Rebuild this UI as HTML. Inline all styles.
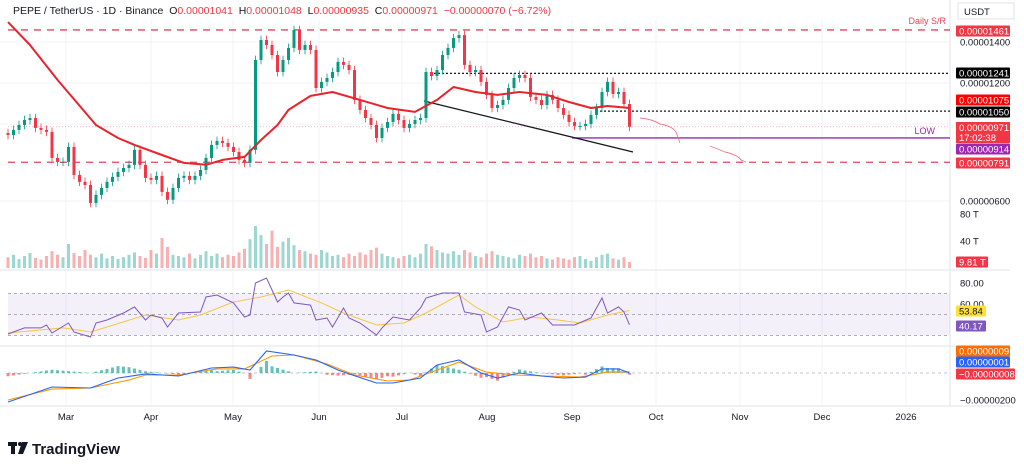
<!DOCTYPE html>
<html><head><meta charset="utf-8">
<style>
html,body{margin:0;padding:0;background:#fff;}
svg{display:block;font-family:"Liberation Sans",sans-serif;}
</style></head>
<body>
<svg id="chart" width="1024" height="470" viewBox="0 0 1024 470" xmlns="http://www.w3.org/2000/svg">
<rect x="0" y="0" width="1024" height="470" fill="#fff"/>
<g id="grid"></g>
<g id="overlay"></g>
<g id="marks"></g>
<g id="axis"></g>
</svg>
<script>
// ---- data ----
const closes=[929,955,980,1005,1015,965,955,945,813,793,793,869,727,692,676,585,626,661,692,717,742,762,778,854,778,712,702,722,641,601,661,712,722,702,722,752,813,879,899,889,869,843,803,788,854,1309,1410,1385,1334,1248,1309,1370,1461,1360,1385,1360,1167,1198,1218,1248,1299,1284,1258,1107,1056,1015,980,914,965,995,1036,1005,965,985,1005,1015,1248,1228,1258,1334,1370,1420,1435,1284,1248,1258,1198,1132,1066,1081,1107,1167,1218,1233,1218,1122,1107,1081,1132,1107,1066,1031,995,975,975,985,1031,1066,1147,1198,1137,1147,1086,971];
const volumes=[18,22,15,20,25,17,14,20,28,22,18,40,25,20,30,22,18,24,16,20,15,18,22,26,20,17,30,24,50,35,22,20,18,24,16,22,28,20,24,18,22,20,26,32,48,70,55,40,62,35,44,50,38,30,28,24,22,30,26,20,22,18,24,20,26,22,30,34,24,20,18,16,20,22,18,24,40,36,30,26,24,28,22,30,26,20,18,24,28,22,20,18,16,22,20,24,18,20,16,14,18,16,14,18,20,15,12,18,22,24,16,14,18,10];
const maIdx=[0,4,9,16,20,23,28,32,36,39,43,46,49,51,55,59,64,69,74,78,81,85,89,93,98,102,106,109,113];
const maVal=[1501,1385,1208,980,914,879,828,788,778,803,818,904,980,1056,1127,1147,1107,1066,1046,1107,1172,1147,1132,1147,1132,1096,1066,1076,1066];
const rsiIdx=[0,3,6,7,8,11,12,15,16,18,21,23,25,26,28,29,31,35,36,38,41,43,44,45,47,49,50,51,52,55,56,58,59,61,62,64,67,68,70,73,75,76,79,82,83,86,87,89,91,93,94,97,99,103,106,108,109,111,112,113];
const rsiVal=[31.4,37.2,37.2,40,32.4,41.9,33.3,28.6,41.9,44.8,51.4,57.2,44.8,49.5,46.7,38.1,51.4,52.4,66.7,68.6,61,47.6,49.5,80,84.8,61.9,66.7,70.5,61,59,44.8,46.7,38.1,56.2,46.7,41.9,30.5,37.2,47.6,44.8,56.2,65.7,70.5,70.5,52.4,49.5,33.3,38.1,57.2,54.3,44.8,51.4,40,40,46.7,65.7,51.4,57.2,52.4,40.2];
const rsiMaIdx=[0,10,15,18,25,31,35,41,46,51,57,61,67,72,76,82,85,90,95,100,104,109,113];
const rsiMaVal=[32.4,37.2,33.3,38.1,49.5,44.8,49.5,61.9,66.7,73.3,61,51.4,40,41.9,51.4,68.6,57.2,42.9,47.6,44.8,41.9,49.5,53.8];
const macdIdx=[0,8,15,20,25,31,37,41,44,47,52,56,60,62,67,70,75,78,82,86,89,93,97,101,105,108,111,113];
const macdVal=[-215,-104,-111,-37,-7,-22,37,44,22,163,133,96,22,-7,-74,-74,-37,59,96,0,-37,0,-22,-37,-30,30,30,1];
const sigIdx=[0,8,15,22,25,31,38,43,48,52,58,63,69,73,77,82,87,92,98,104,109,113];
const sigVal=[-200,-119,-111,-52,-15,-15,30,30,126,133,67,-15,-59,-52,7,81,7,-15,-22,-30,7,9];
const monthLabels=["Mar","Apr","May","Jun","Jul","Aug","Sep","Oct","Nov","Dec","2026"];
const monthX=[66,151,233,319,402,487,572,656,740,822,906];

// ---- scales ----
const NS="http://www.w3.org/2000/svg";
const xOf=i=>8+5.5*i;
const yP=p=>42+(1400-p)*0.1975;
const yV=v=>268-v*0.6;
const yR=v=>283+(80-v)*1.05;
const yM=v=>373-v*0.135;
function el(tag,attrs,parent,text){const e=document.createElementNS(NS,tag);for(const k in attrs)e.setAttribute(k,attrs[k]);if(text!==undefined)e.textContent=text;(parent||document.getElementById('marks')).appendChild(e);return e;}
function interp(idx,val,i){if(i<=idx[0])return val[0];for(let k=1;k<idx.length;k++){if(i<=idx[k]){const t=(i-idx[k-1])/(idx[k]-idx[k-1]);return val[k-1]+t*(val[k]-val[k-1]);}}return val[val.length-1];}
function pathOf(idx,val,yf){return idx.map((d,k)=>(k?'L':'M')+xOf(d).toFixed(1)+' '+yf(val[k]).toFixed(1)).join(' ');}

const grid=document.getElementById('grid'),ov=document.getElementById('overlay'),marks=document.getElementById('marks'),axis=document.getElementById('axis');
monthX.forEach(x=>{const g=el('line',{x1:x,y1:20,x2:x,y2:405,stroke:'#f0f3fa','stroke-width':1},grid);});
[42,83,124,165,201].forEach(y=>{const g=el('line',{x1:0,y1:y,x2:950,y2:y,stroke:'#f0f3fa'},grid);});
[270,346,406].forEach(y=>{const s=el('line',{x1:0,y1:y,x2:1010,y2:y,stroke:'#e0e3eb'},grid);});
const vs=el('line',{x1:950,y1:0,x2:950,y2:406,stroke:'#e0e3eb'},grid);

const band=el('rect',{x:8,y:yR(70),width:942,height:yR(30)-yR(70),fill:'#7e57c2','fill-opacity':0.09},ov);

[70,50,30].forEach(v=>{const l=el('line',{x1:8,y1:yR(v),x2:950,y2:yR(v),stroke:'#9598a1','stroke-dasharray':'3 3','stroke-width':0.8},ov);});
const mz=el('line',{x1:8,y1:yM(0),x2:950,y2:yM(0),stroke:'#b2b5be','stroke-dasharray':'3 3','stroke-width':0.8},ov);

function hline(y,x1,x2,color,dash,w,name){const l=el('line',{x1:x1,y1:y,x2:x2,y2:y,stroke:color,'stroke-dasharray':dash,'stroke-width':w},ov);}
hline(yP(1461),8,950,'#e0455a','7 6',1.3,'daily-sr-upper');
hline(yP(791),8,950,'#e0455a','7 6',1.3,'daily-sr-lower');
hline(yP(1241),430,950,'#131722','2 2',1.2,'resistance-1241');
hline(yP(1050),600,950,'#131722','2 2',1.2,'resistance-1050');
hline(yP(971),8,950,'#f7a1ab','1 2',0.8,'last-price-line');
hline(yP(914),572,950,'#9c27b0','',1.4,'low-line');
const low=el('text',{x:935,y:yP(914)-4,fill:'#9c27b0','font-size':9,'text-anchor':'end'},ov,'LOW');
const dsr=el('text',{x:946,y:24,fill:'#e0455a','font-size':9,'text-anchor':'end'},ov,'Daily S/R');
const tl=el('line',{x1:424,y1:101,x2:633,y2:152,stroke:'#131722','stroke-width':1.3},ov);
const pr1=el('path',{d:'M640 118 Q652 119 660 124 Q672 126 676 132 L680 143',fill:'none',stroke:'#f07a8a','stroke-width':0.9},ov);
const pr2=el('path',{d:'M710 146 Q718 149 725 152 Q738 155 741 160 L746 162',fill:'none',stroke:'#f07a8a','stroke-width':0.9},ov);

closes.forEach((c,i)=>{
  const o=i?closes[i-1]:c+10;const up=c>=o;const x=xOf(i);
  const col=up?'#089981':'#f23645';
  const vb=el('rect',{x:x-1.5,y:yV(volumes[i]),width:3,height:268-yV(volumes[i]),fill:up?'#26a69a':'#ef5350','fill-opacity':0.45});
  
  const hi=Math.max(o,c)+22,lo=Math.min(o,c)-22;
  const w=el('line',{x1:x,y1:yP(hi),x2:x,y2:yP(lo),stroke:col,'stroke-width':0.8});
  
  const top=yP(Math.max(o,c)),bot=yP(Math.min(o,c));
  const b=el('rect',{x:x-1.5,y:top,width:3,height:Math.max(1,bot-top),fill:col});
  
  const h=interp(macdIdx,macdVal,i)-interp(sigIdx,sigVal,i);
  const hb=el('rect',{x:x-1.5,y:Math.min(yM(0),yM(h*1.6)),width:3,height:Math.abs(yM(h*1.6)-yM(0)),fill:h>=0?'#26a69a':'#ef5350','fill-opacity':0.7});
  
});
const ma=el('path',{d:pathOf(maIdx,maVal,yP),fill:'none',stroke:'#e8232c','stroke-width':2,'stroke-linejoin':'round'});

const rma=el('path',{d:pathOf(rsiMaIdx,rsiMaVal,yR),fill:'none',stroke:'#f5c842','stroke-width':1});

const rsi=el('path',{d:pathOf(rsiIdx,rsiVal,yR),fill:'none',stroke:'#7e57c2','stroke-width':1});

const sig=el('path',{d:pathOf(sigIdx,sigVal,yM),fill:'none',stroke:'#ff9800','stroke-width':1.1});

const mac=el('path',{d:pathOf(macdIdx,macdVal,yM),fill:'none',stroke:'#2962ff','stroke-width':1.1});


function plain(y,t,name){const e=el('text',{x:960,y:y+3.5,fill:'#131722','font-size':9.5},axis,t);}
function box(y,t,bg,fg,name,wd){wd=wd||54;const r=el('rect',{x:956,y:y-5.5,width:wd,height:11,fill:bg,rx:1},axis);const e=el('text',{x:959,y:y+3.5,fill:fg||'#fff','font-size':9.5},axis,t);}
const ub=el('rect',{x:958,y:3,width:56,height:16,fill:'#fff',stroke:'#e0e3eb'},axis);
const ut=el('text',{x:964,y:15,fill:'#131722','font-size':9.5},axis,'USDT');
plain(42,'0.00001400','price-tick-1400');
plain(83,'0.00001200','price-tick-1200');
plain(201,'0.00000600','price-tick-600');
box(31,'0.00001461','#f23645',null,'label-1461');
box(73,'0.00001241','#000',null,'label-1241');
box(100,'0.00001075','#ff0000',null,'label-ma');
box(112,'0.00001050','#000',null,'label-1050');
const lb=el('rect',{x:956,y:122,width:54,height:21,fill:'#f23645'},axis);
const l1=el('text',{x:959,y:131,fill:'#fff','font-size':9.5},axis,'0.00000971');
const l2=el('text',{x:959,y:141,fill:'#fff','font-size':9.5},axis,'17:02:38');
box(149,'0.00000914','#9c27b0',null,'label-low');
box(163,'0.00000791','#f23645',null,'label-791');
plain(214,'80 T','volume-tick-80');
plain(241,'40 T','volume-tick-40');
box(262,'9.81 T','#f23645',null,'label-volume',32);
plain(283,'80.00','rsi-tick-80');
plain(304,'60.00','rsi-tick-60');
box(311,'53.84','#ffe135','#131722','label-rsi-ma',30);
box(326,'40.17','#7e57c2',null,'label-rsi',30);
box(351,'0.00000009','#ff6d00',null,'label-signal');
box(362,'0.00000001','#2962ff',null,'label-macd');
box(374,'\u22120.00000008','#f23645',null,'label-histogram',59);
plain(400,'\u22120.00000200','macd-tick-neg200');
monthLabels.forEach((m,k)=>{const t=el('text',{x:monthX[k],y:420,fill:'#131722','font-size':9.5,'text-anchor':'middle'},axis,m);});

const hd=el('text',{x:13,y:14,'font-size':10.5,fill:'#131722'},axis);

hd.style.whiteSpace='pre';
hd.innerHTML='PEPE / TetherUS · 1D · Binance  O<tspan fill="#f23645">0.00001041</tspan>  H<tspan fill="#f23645">0.00001048</tspan>  L<tspan fill="#f23645">0.00000935</tspan>  C<tspan fill="#f23645">0.00000971</tspan>  <tspan fill="#f23645">−0.00000070 (−6.72%)</tspan>';
// logo
const lgA=el('rect',{x:8,y:442,width:9,height:4,fill:'#131722'},axis);
const lgB=el('rect',{x:11,y:442,width:4,height:12,fill:'#131722'},axis);
const lgC=el('circle',{cx:20,cy:444,r:2,fill:'#131722'},axis);
const lgD=el('path',{d:'M22 442 L28 442 L23 454 L18 454 Z',fill:'#131722'},axis);
const lgTxt=el('text',{x:32,y:454,'font-size':15,'font-weight':'bold',fill:'#131722'},axis,'TradingView');

</script>
</body></html>
